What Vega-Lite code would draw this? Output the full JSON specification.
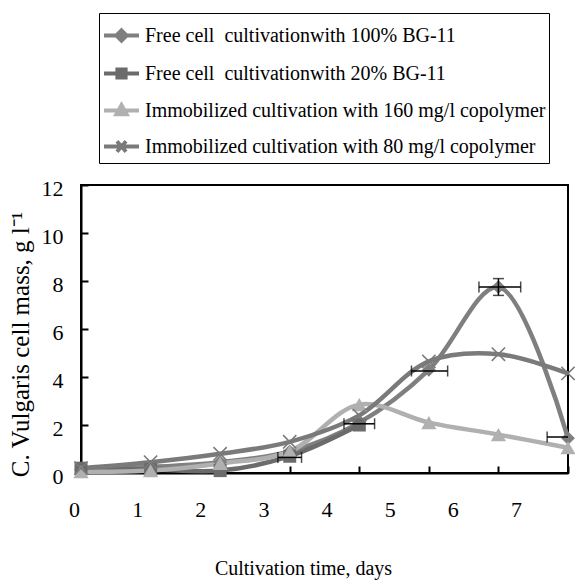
{
  "$schema": "https://vega.github.io/schema/vega-lite/v6.json",
  "width": 487,
  "height": 288,
  "autosize": {"type": "none"},
  "padding": {"left": 81, "top": 185, "right": 7, "bottom": 112},
  "background": "white",
  "config": {
    "view": {"stroke": "black", "strokeWidth": 2},
    "font": "Liberation Serif",
    "axis": {"labelFont": "Liberation Serif", "titleFont": "Liberation Serif", "labelColor": "black", "titleColor": "black", "titleFontWeight": "normal", "grid": false, "labelFlush": false, "labelOverlap": false, "domainColor": "black", "tickColor": "black"},
    "legend": {"labelFont": "Liberation Serif", "labelColor": "black"}
  },
  "datasets": {
    "series": [
      {"series": "Free cell\u00a0 cultivationwith 100% BG-11", "day": 0, "mass": 0.15},
      {"series": "Free cell\u00a0 cultivationwith 100% BG-11", "day": 1, "mass": 0.25},
      {"series": "Free cell\u00a0 cultivationwith 100% BG-11", "day": 2, "mass": 0.45},
      {"series": "Free cell\u00a0 cultivationwith 100% BG-11", "day": 3, "mass": 0.9},
      {"series": "Free cell\u00a0 cultivationwith 100% BG-11", "day": 4, "mass": 2.1},
      {"series": "Free cell\u00a0 cultivationwith 100% BG-11", "day": 5, "mass": 4.3},
      {"series": "Free cell\u00a0 cultivationwith 100% BG-11", "day": 6, "mass": 7.75},
      {"series": "Free cell\u00a0 cultivationwith 100% BG-11", "day": 7, "mass": 1.45},
      {"series": "Free cell\u00a0 cultivationwith 20% BG-11", "day": 0, "mass": 0.2},
      {"series": "Free cell\u00a0 cultivationwith 20% BG-11", "day": 1, "mass": 0.15},
      {"series": "Free cell\u00a0 cultivationwith 20% BG-11", "day": 2, "mass": 0.1},
      {"series": "Free cell\u00a0 cultivationwith 20% BG-11", "day": 3, "mass": 0.7},
      {"series": "Free cell\u00a0 cultivationwith 20% BG-11", "day": 4, "mass": 2.0},
      {"series": "Immobilized cultivation with 160 mg/l copolymer", "day": 0, "mass": 0.05},
      {"series": "Immobilized cultivation with 160 mg/l copolymer", "day": 1, "mass": 0.1},
      {"series": "Immobilized cultivation with 160 mg/l copolymer", "day": 2, "mass": 0.4},
      {"series": "Immobilized cultivation with 160 mg/l copolymer", "day": 3, "mass": 0.9},
      {"series": "Immobilized cultivation with 160 mg/l copolymer", "day": 4, "mass": 2.85},
      {"series": "Immobilized cultivation with 160 mg/l copolymer", "day": 5, "mass": 2.1},
      {"series": "Immobilized cultivation with 160 mg/l copolymer", "day": 6, "mass": 1.6},
      {"series": "Immobilized cultivation with 160 mg/l copolymer", "day": 7, "mass": 1.05},
      {"series": "Immobilized cultivation with 80 mg/l copolymer", "day": 0, "mass": 0.2},
      {"series": "Immobilized cultivation with 80 mg/l copolymer", "day": 1, "mass": 0.45},
      {"series": "Immobilized cultivation with 80 mg/l copolymer", "day": 2, "mass": 0.8},
      {"series": "Immobilized cultivation with 80 mg/l copolymer", "day": 3, "mass": 1.3},
      {"series": "Immobilized cultivation with 80 mg/l copolymer", "day": 4, "mass": 2.4},
      {"series": "Immobilized cultivation with 80 mg/l copolymer", "day": 5, "mass": 4.65},
      {"series": "Immobilized cultivation with 80 mg/l copolymer", "day": 6, "mass": 4.95},
      {"series": "Immobilized cultivation with 80 mg/l copolymer", "day": 7, "mass": 4.15}
    ],
    "errH": [
      {"lo": 2.83, "hi": 3.17, "mass": 0.65},
      {"lo": 3.78, "hi": 4.22, "mass": 2.05},
      {"lo": 4.75, "hi": 5.27, "mass": 4.25},
      {"lo": 5.72, "hi": 6.32, "mass": 7.75},
      {"lo": 6.7, "hi": 7.3, "mass": 1.5}
    ],
    "errV": [
      {"day": 6, "mass": 7.4, "mass_hi": 8.1}
    ]
  },
  "layer": [
    {
      "layer": [
        {
          "data": {"name": "series"},
          "mark": {"type": "line", "interpolate": "catmull-rom", "strokeWidth": 4.5},
          "encoding": {
            "x": {"field": "day", "type": "quantitative", "scale": {"domain": [0, 7], "nice": false, "zero": false},
              "axis": {"orient": "bottom", "values": [0, 0.5, 1, 1.5, 2, 2.5, 3, 3.5, 4, 4.5, 5, 5.5, 6, 6.5, 7], "labels": false, "title": null, "tickSize": -7, "tickWidth": 2, "domainWidth": 2}},
            "y": {"field": "mass", "type": "quantitative", "title": "C. Vulgaris cell mass, g l\u207b\u00b9", "scale": {"domain": [0, 12], "nice": false},
              "axis": {"values": [0, 1, 2, 3, 4, 5, 6, 7, 8, 9, 10, 11, 12], "labelExpr": "datum.value % 2 === 0 ? datum.label : ''", "tickSize": -7, "tickWidth": 2, "domainWidth": 2, "labelPadding": 25, "labelOffset": 3, "labelFontSize": 22, "titleFontSize": 25, "titlePadding": 8, "titleY": 159}},
            "color": {"field": "series", "type": "nominal",
              "scale": {"domain": ["Free cell\u00a0 cultivationwith 100% BG-11", "Free cell\u00a0 cultivationwith 20% BG-11", "Immobilized cultivation with 160 mg/l copolymer", "Immobilized cultivation with 80 mg/l copolymer"], "range": ["#7f7f7f", "#6b6b6b", "#b0b0b0", "#7a7a7a"]},
              "legend": {"orient": "none", "legendX": 18, "legendY": -172, "title": null, "labelFontSize": 20, "labelLimit": 0, "symbolSize": 1225, "strokeColor": "black", "padding": 3, "rowPadding": 5, "labelOffset": 4,
                "encode": {"symbols": {"update": {
                  "shape": {"signal": "['M-1,0H1M0,-0.3L0.3,0L0,0.3L-0.3,0Z','M-1,0H1M-0.24,-0.24H0.24V0.24H-0.24Z','M-1,0H1M0,-0.32L0.3,0.22H-0.3Z','M-1,0H1M-0.26,-0.3L0.26,0.3M-0.26,0.3L0.26,-0.3'][indexof(domain('color'), datum.value)]"},
                  "stroke": {"scale": "color", "field": "value"},
                  "fill": {"scale": "color", "field": "value"},
                  "strokeWidth": {"value": 3.8},
                  "opacity": {"value": 1}
                }}}}}
          }
        },
        {
          "data": {"name": "series"},
          "transform": [{"filter": {"field": "series", "equal": "Free cell\u00a0 cultivationwith 100% BG-11"}}],
          "mark": {"type": "point", "filled": true, "size": 190, "opacity": 1, "shape": "diamond"},
          "encoding": {
            "x": {"field": "day", "type": "quantitative", "scale": {"domain": [0, 7], "nice": false, "zero": false}},
            "y": {"field": "mass", "type": "quantitative", "title": "C. Vulgaris cell mass, g l\u207b\u00b9"},
            "color": {"field": "series", "type": "nominal"}
          }
        },
        {
          "data": {"name": "series"},
          "transform": [{"filter": {"field": "series", "equal": "Free cell\u00a0 cultivationwith 20% BG-11"}}],
          "mark": {"type": "point", "filled": true, "size": 170, "opacity": 1, "shape": "square"},
          "encoding": {
            "x": {"field": "day", "type": "quantitative", "scale": {"domain": [0, 7], "nice": false, "zero": false}},
            "y": {"field": "mass", "type": "quantitative", "title": "C. Vulgaris cell mass, g l\u207b\u00b9"},
            "color": {"field": "series", "type": "nominal"}
          }
        },
        {
          "data": {"name": "series"},
          "transform": [{"filter": {"field": "series", "equal": "Immobilized cultivation with 160 mg/l copolymer"}}],
          "mark": {"type": "point", "filled": true, "size": 230, "opacity": 1, "shape": "triangle-up"},
          "encoding": {
            "x": {"field": "day", "type": "quantitative", "scale": {"domain": [0, 7], "nice": false, "zero": false}},
            "y": {"field": "mass", "type": "quantitative", "title": "C. Vulgaris cell mass, g l\u207b\u00b9"},
            "color": {"field": "series", "type": "nominal"}
          }
        },
        {
          "data": {"name": "series"},
          "transform": [{"filter": {"field": "series", "equal": "Immobilized cultivation with 80 mg/l copolymer"}}],
          "mark": {"type": "point", "filled": true, "size": 220, "opacity": 1, "shape": "M0.82,-0.97L0.97,-0.82L0.15,0L0.97,0.82L0.82,0.97L0,0.15L-0.82,0.97L-0.97,0.82L-0.15,0L-0.97,-0.82L-0.82,-0.97L0,-0.15Z"},
          "encoding": {
            "x": {"field": "day", "type": "quantitative", "scale": {"domain": [0, 7], "nice": false, "zero": false}},
            "y": {"field": "mass", "type": "quantitative", "title": "C. Vulgaris cell mass, g l\u207b\u00b9"},
            "color": {"field": "series", "type": "nominal"}
          }
        },
        {
          "data": {"name": "errH"},
          "mark": {"type": "rule", "color": "black", "strokeWidth": 1.5, "clip": true},
          "encoding": {
            "x": {"field": "lo", "type": "quantitative", "scale": {"domain": [0, 7], "nice": false, "zero": false}},
            "x2": {"field": "hi"},
            "y": {"field": "mass", "type": "quantitative", "title": "C. Vulgaris cell mass, g l\u207b\u00b9"}
          }
        },
        {
          "data": {"name": "errH"},
          "mark": {"type": "tick", "color": "black", "thickness": 1.5, "size": 11, "orient": "vertical", "clip": true},
          "encoding": {
            "x": {"field": "lo", "type": "quantitative", "scale": {"domain": [0, 7], "nice": false, "zero": false}},
            "y": {"field": "mass", "type": "quantitative", "title": "C. Vulgaris cell mass, g l\u207b\u00b9"}
          }
        },
        {
          "data": {"name": "errH"},
          "mark": {"type": "tick", "color": "black", "thickness": 1.5, "size": 11, "orient": "vertical", "clip": true},
          "encoding": {
            "x": {"field": "hi", "type": "quantitative", "scale": {"domain": [0, 7], "nice": false, "zero": false}},
            "y": {"field": "mass", "type": "quantitative", "title": "C. Vulgaris cell mass, g l\u207b\u00b9"}
          }
        },
        {
          "data": {"name": "errV"},
          "mark": {"type": "errorbar", "ticks": {"size": 11}, "color": "black", "thickness": 1.5},
          "encoding": {
            "x": {"field": "day", "type": "quantitative", "scale": {"domain": [0, 7], "nice": false, "zero": false}},
            "y": {"field": "mass", "type": "quantitative", "title": "C. Vulgaris cell mass, g l\u207b\u00b9"},
            "y2": {"field": "mass_hi"}
          }
        }
      ]
    },
    {
      "data": {"name": "series"},
      "mark": {"type": "point", "opacity": 0},
      "encoding": {
        "x": {"field": "day", "type": "quantitative", "scale": {"domain": [0, 7], "range": [-7, 435], "nice": false, "zero": false},
          "axis": {"orient": "bottom", "values": [0, 1, 2, 3, 4, 5, 6, 7], "format": "d", "domain": false, "ticks": false, "labelPadding": 26, "labelFontSize": 22, "title": "Cultivation time, days", "titleFontSize": 20, "titleX": 222, "titleY": 95, "titleBaseline": "middle"}},
        "y": {"field": "mass", "type": "quantitative", "title": "C. Vulgaris cell mass, g l\u207b\u00b9"}
      }
    }
  ],
  "resolve": {"scale": {"x": "independent"}, "axis": {"x": "independent"}}
}
